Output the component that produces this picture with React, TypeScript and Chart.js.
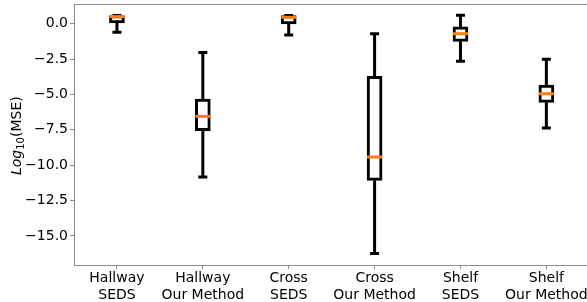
import React, { useEffect, useRef } from "react";
import { Chart, registerables } from "chart.js";

Chart.register(...registerables);

const categories: string[][] = [
  ["Hallway", "SEDS"],
  ["Hallway", "Our Method"],
  ["Cross", "SEDS"],
  ["Cross", "Our Method"],
  ["Shelf", "SEDS"],
  ["Shelf", "Our Method"],
];
const whiskerLow = [-0.61, -10.84, -0.8, -16.23, -2.66, -7.37];
const q1 = [0.05, -7.56, -0.02, -11.07, -1.25, -5.56];
const median = [0.5, -6.55, 0.45, -9.42, -0.71, -4.95];
const q3 = [0.57, -5.32, 0.57, -3.72, -0.23, -4.33];
const whiskerHigh = [0.57, -2.03, 0.57, -0.71, 0.59, -2.52];
const yTicks = [0, -2.5, -5, -7.5, -10, -12.5, -15];
const yMin = -17.05;
const yMax = 1.39;

const FONT = "'DejaVu Sans', sans-serif";
const AXIS_COLOR = "#8c8c8c";

const boxPlugin = {
  id: "boxExtras",
  beforeDatasetsDraw(chart: any) {
    const { ctx, scales } = chart;
    const xs = scales.x;
    const ys = scales.y;
    ctx.save();
    ctx.strokeStyle = "#000";
    ctx.lineWidth = 3;
    ctx.lineCap = "butt";
    for (let i = 0; i < categories.length; i++) {
      const x = xs.getPixelForValue(i);
      const yLo = ys.getPixelForValue(whiskerLow[i]);
      const yQ1 = ys.getPixelForValue(q1[i]);
      const yQ3 = ys.getPixelForValue(q3[i]);
      const yHi = ys.getPixelForValue(whiskerHigh[i]);
      ctx.beginPath();
      ctx.moveTo(x, yLo);
      ctx.lineTo(x, yQ1);
      ctx.moveTo(x, yQ3);
      ctx.lineTo(x, yHi);
      ctx.moveTo(x - 4.5, yLo);
      ctx.lineTo(x + 4.5, yLo);
      ctx.moveTo(x - 4.5, yHi);
      ctx.lineTo(x + 4.5, yHi);
      ctx.stroke();
    }
    ctx.restore();
  },
  afterDatasetsDraw(chart: any) {
    const { ctx, scales, chartArea } = chart;
    const xs = scales.x;
    const ys = scales.y;
    ctx.save();
    ctx.strokeStyle = "#ff7f0e";
    ctx.lineWidth = 3;
    for (let i = 0; i < categories.length; i++) {
      const x = xs.getPixelForValue(i);
      const y = ys.getPixelForValue(median[i]);
      ctx.beginPath();
      ctx.moveTo(x - 7.5, y);
      ctx.lineTo(x + 7.5, y);
      ctx.stroke();
    }
    ctx.strokeStyle = AXIS_COLOR;
    ctx.lineWidth = 1;
    ctx.beginPath();
    ctx.moveTo(chartArea.left, Math.round(chartArea.top) + 0.5);
    ctx.lineTo(chartArea.right, Math.round(chartArea.top) + 0.5);
    ctx.moveTo(Math.round(chartArea.right) + 0.5, chartArea.top);
    ctx.lineTo(Math.round(chartArea.right) + 0.5, chartArea.bottom);
    ctx.stroke();
    ctx.restore();
  },
  afterDraw(chart: any) {
    const { ctx } = chart;
    ctx.save();
    ctx.fillStyle = "#000";
    ctx.textBaseline = "alphabetic";
    ctx.translate(20.5, 175);
    ctx.rotate(-Math.PI / 2);
    let x = 0;
    ctx.font = `italic 14px ${FONT}`;
    ctx.fillText("Log", x, 0);
    x += ctx.measureText("Log").width;
    ctx.font = `10px ${FONT}`;
    ctx.fillText("10", x, 3);
    x += ctx.measureText("10").width;
    ctx.font = `14px ${FONT}`;
    ctx.fillText("(MSE)", x, 0);
    ctx.restore();
  },
};

export default function App() {
  const ref = useRef<HTMLCanvasElement | null>(null);
  useEffect(() => {
    if (!ref.current) return;
    const chart = new Chart(ref.current, {
      type: "bar",
      data: {
        labels: categories,
        datasets: [
          {
            data: q1.map((v, i) => [v, q3[i]]) as any,
            backgroundColor: "#ffffff",
            borderColor: "#000000",
            borderWidth: 3,
            borderSkipped: false,
            barThickness: 15,
          },
        ],
      },
      options: {
        animation: false,
        responsive: false,
        devicePixelRatio: 1,
        layout: { padding: { left: 0, top: 4, right: 10.7, bottom: 0 } },
        plugins: {
          legend: { display: false },
          tooltip: { enabled: false },
          title: { display: false },
        },
        scales: {
          x: {
            type: "category",
            offset: true,
            grid: {
              display: true,
              offset: false,
              drawOnChartArea: false,
              drawTicks: true,
              tickLength: 4,
              color: AXIS_COLOR,
            },
            border: { display: true, color: AXIS_COLOR, width: 1 },
            ticks: {
              font: { family: FONT, size: 14, lineHeight: 1.2 },
              color: "#000",
              padding: 1,
              maxRotation: 0,
              minRotation: 0,
              autoSkip: false,
            },
            afterFit: (s: any) => {
              s.height = 37;
              s.paddingLeft = 0;
              s.paddingRight = 0;
            },
          },
          y: {
            type: "linear",
            min: yMin,
            max: yMax,
            grid: {
              display: true,
              drawOnChartArea: false,
              drawTicks: true,
              tickLength: 4,
              color: AXIS_COLOR,
            },
            border: { display: true, color: AXIS_COLOR, width: 1 },
            afterBuildTicks: (s: any) => {
              s.ticks = yTicks.map((v) => ({ value: v }));
            },
            ticks: {
              font: { family: FONT, size: 14 },
              color: "#000",
              padding: 2,
              callback: (v: any) => {
                const n = Number(v);
                if (n === 0) return "0.0";
                return (n < 0 ? "\u2212" : "") + Math.abs(n).toFixed(1);
              },
            },
            afterFit: (s: any) => {
              s.width = 74;
              s.paddingTop = 0;
              s.paddingBottom = 0;
            },
          },
        },
      },
      plugins: [boxPlugin],
    });
    return () => chart.destroy();
  }, []);
  return (
    <div
      style={{
        position: "fixed",
        left: 0,
        top: 0,
        width: 587,
        height: 302,
        overflow: "hidden",
        background: "#fff",
      }}
    >
      <canvas ref={ref} width={600} height={302} style={{ display: "block" }} />
    </div>
  );
}
